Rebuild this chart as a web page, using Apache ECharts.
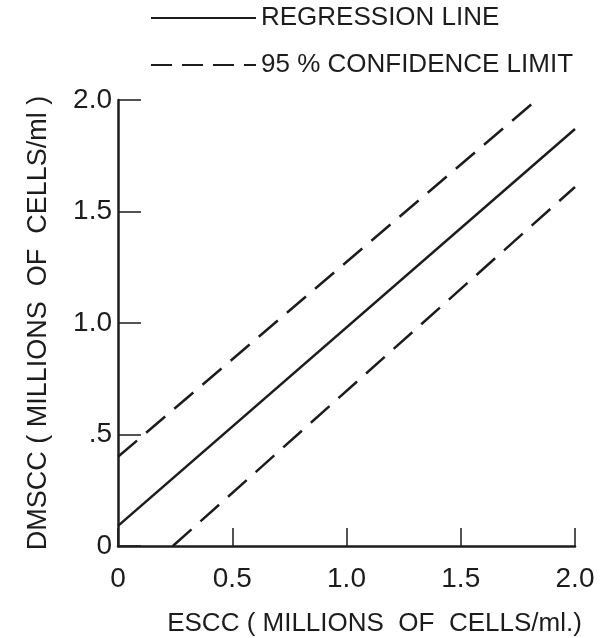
<!DOCTYPE html>
<html>
<head>
<meta charset="utf-8">
<script src="https://cdn.jsdelivr.net/npm/echarts@6/dist/echarts.min.js"></script>
<style>html,body{margin:0;padding:0;background:#fff}#c{width:610px;height:638px}</style>
</head>
<body>
<div id="c"></div>
<script>
const xTicks = ['0', '0.5', '1.0', '1.5', '2.0'];
const yTicks = ['0', '.5', '1.0', '1.5', '2.0'];
const regressionX = [0, 2.0];
const regressionY = [0.09, 1.87];
const upperX = [0, 1.82];
const upperY = [0.40, 1.99];
const lowerX = [0.24, 2.0];
const lowerY = [0, 1.61];
const seriesNames = ['REGRESSION LINE', '95 % CONFIDENCE LIMIT'];

const ink = '#1c1c1c';
const font = 'Liberation Sans';
const pair = (xs, ys) => xs.map((x, i) => [x, ys[i]]);

const chart = echarts.init(document.getElementById('c'));
chart.setOption({
  animation: false,
  backgroundColor: '#fff',
  textStyle: { fontFamily: font, color: ink },
  legend: [
    { data: [seriesNames[0]], left: 145, top: 0, itemWidth: 105, itemHeight: 10,
      itemStyle: { opacity: 0 },
      textStyle: { fontSize: 26, color: ink, fontFamily: font } },
    { data: [seriesNames[1]], left: 145, top: 47, itemWidth: 105, itemHeight: 10,
      itemStyle: { opacity: 0 },
      lineStyle: { type: [21, 10] },
      textStyle: { fontSize: 26, color: ink, fontFamily: font } }
  ],
  grid: { left: 118, right: 35, top: 100, bottom: 92, containLabel: false, outerBoundsMode: 'none' },
  xAxis: {
    type: 'value', min: 0, max: 2, interval: 0.5,
    name: 'ESCC ( MILLIONS  OF  CELLS/ml.)',
    nameLocation: 'middle', nameGap: 65,
    nameTextStyle: { fontSize: 26, color: ink, fontFamily: font, padding: [0, 0, 0, 56] },
    axisLine: { lineStyle: { color: ink, width: 2.5 } },
    axisTick: { inside: true, length: 18, lineStyle: { color: ink, width: 1.5 } },
    axisLabel: { fontSize: 28, color: ink, fontFamily: font, margin: 19,
      formatter: (v) => xTicks[Math.round(v / 0.5)] },
    splitLine: { show: false }
  },
  yAxis: {
    type: 'value', min: 0, max: 2, interval: 0.5,
    name: 'DMSCC ( MILLIONS  OF  CELLS/ml )',
    nameLocation: 'middle', nameGap: 66, nameRotate: 90,
    nameTextStyle: { fontSize: 27, color: ink, fontFamily: font },
    axisLine: { lineStyle: { color: ink, width: 2.5 } },
    axisTick: { inside: true, length: 23, lineStyle: { color: ink, width: 1.5 } },
    axisLabel: { fontSize: 28, color: ink, fontFamily: font, margin: 6,
      formatter: (v) => yTicks[Math.round(v / 0.5)] },
    splitLine: { show: false }
  },
  series: [
    { name: seriesNames[0], type: 'line', symbol: 'none', data: pair(regressionX, regressionY),
      lineStyle: { color: ink, width: 2.5 }, itemStyle: { color: ink } },
    { name: seriesNames[1], type: 'line', symbol: 'none', data: pair(upperX, upperY),
      lineStyle: { color: ink, width: 2.5, type: [25, 12] }, itemStyle: { color: ink } },
    { name: seriesNames[1], type: 'line', symbol: 'none', data: pair(lowerX, lowerY),
      lineStyle: { color: ink, width: 2.5, type: [25, 12] }, itemStyle: { color: ink } }
  ]
});
</script>
</body>
</html>
